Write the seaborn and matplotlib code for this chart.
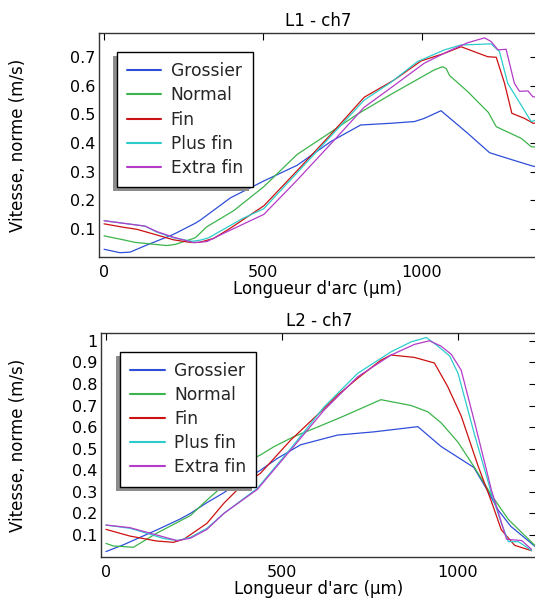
import numpy as np
import pandas as pd
import matplotlib
matplotlib.use("Agg")
import matplotlib.pyplot as plt
import seaborn as sns

series_names = ["Grossier", "Normal", "Fin", "Plus fin", "Extra fin"]
colors = ["#2f4fd8", "#3cb44b", "#cc1111", "#2ccccc", "#b23cc8"]

# ---- L1 - ch7 ----
l1_grossier_x = [0, 50, 82, 135, 214, 229, 287, 303, 398, 503, 608, 714, 808, 903, 977, 1008, 1061, 1145, 1214, 1271, 1350, 1365]
l1_grossier_y = [0.028, 0.016, 0.018, 0.043, 0.078, 0.086, 0.119, 0.13, 0.208, 0.267, 0.322, 0.405, 0.463, 0.469, 0.475, 0.486, 0.513, 0.434, 0.366, 0.346, 0.319, 0.316]
l1_normal_x = [0, 61, 98, 198, 224, 287, 324, 408, 503, 608, 714, 798, 903, 1040, 1066, 1077, 1088, 1145, 1210, 1235, 1314, 1345, 1365]
l1_normal_y = [0.075, 0.061, 0.052, 0.041, 0.045, 0.068, 0.107, 0.163, 0.247, 0.36, 0.438, 0.501, 0.57, 0.656, 0.667, 0.661, 0.636, 0.58, 0.507, 0.457, 0.416, 0.387, 0.385]
l1_fin_x = [0, 61, 103, 166, 219, 272, 300, 345, 398, 503, 608, 714, 819, 914, 998, 1072, 1124, 1208, 1235, 1261, 1284, 1324, 1351, 1365]
l1_fin_y = [0.117, 0.105, 0.098, 0.078, 0.061, 0.052, 0.052, 0.066, 0.102, 0.18, 0.303, 0.43, 0.56, 0.621, 0.687, 0.714, 0.737, 0.702, 0.70, 0.609, 0.504, 0.486, 0.469, 0.47]
l1_plusfin_x = [0, 61, 129, 166, 219, 277, 303, 329, 435, 503, 608, 714, 819, 903, 987, 1072, 1124, 1219, 1245, 1271, 1345, 1365]
l1_plusfin_y = [0.128, 0.119, 0.109, 0.088, 0.068, 0.056, 0.060, 0.068, 0.135, 0.17, 0.296, 0.424, 0.55, 0.612, 0.685, 0.726, 0.743, 0.747, 0.72, 0.609, 0.475, 0.482]
l1_extrafin_x = [0, 61, 129, 166, 219, 282, 324, 377, 503, 608, 714, 819, 903, 1008, 1082, 1145, 1198, 1219, 1240, 1266, 1292, 1308, 1335, 1350, 1365]
l1_extrafin_y = [0.128, 0.119, 0.109, 0.09, 0.07, 0.051, 0.055, 0.084, 0.15, 0.27, 0.397, 0.525, 0.593, 0.679, 0.72, 0.751, 0.768, 0.755, 0.726, 0.728, 0.609, 0.581, 0.582, 0.562, 0.56]

# ---- L2 - ch7 ----
l2_grossier_x = [0, 49, 97, 144, 211, 240, 287, 335, 382, 439, 487, 553, 658, 762, 886, 952, 1045, 1086, 1114, 1150, 1230]
l2_grossier_y = [0.023, 0.054, 0.089, 0.123, 0.174, 0.20, 0.25, 0.296, 0.347, 0.40, 0.455, 0.518, 0.563, 0.578, 0.602, 0.51, 0.413, 0.30, 0.216, 0.14, 0.032]
l2_normal_x = [0, 21, 78, 144, 240, 287, 335, 392, 439, 477, 534, 601, 677, 781, 867, 914, 952, 1000, 1048, 1095, 1143, 1230]
l2_normal_y = [0.061, 0.049, 0.043, 0.108, 0.19, 0.262, 0.331, 0.432, 0.471, 0.509, 0.556, 0.60, 0.652, 0.727, 0.70, 0.671, 0.62, 0.53, 0.41, 0.285, 0.172, 0.033]
l2_fin_x = [0, 68, 144, 192, 221, 287, 335, 382, 439, 525, 610, 658, 715, 781, 810, 876, 933, 971, 1009, 1057, 1095, 1123, 1161, 1209]
l2_fin_y = [0.126, 0.095, 0.072, 0.066, 0.08, 0.154, 0.247, 0.324, 0.386, 0.54, 0.671, 0.748, 0.826, 0.91, 0.934, 0.923, 0.897, 0.787, 0.652, 0.42, 0.255, 0.124, 0.052, 0.027]
l2_plusfin_x = [0, 68, 116, 163, 202, 240, 287, 335, 430, 525, 620, 715, 810, 867, 910, 943, 976, 1000, 1047, 1095, 1123, 1143, 1171, 1190, 1209]
l2_plusfin_y = [0.146, 0.131, 0.108, 0.084, 0.074, 0.089, 0.131, 0.20, 0.316, 0.501, 0.694, 0.849, 0.949, 0.995, 1.015, 0.975, 0.93, 0.85, 0.565, 0.293, 0.155, 0.069, 0.069, 0.049, 0.027]
l2_extrafin_x = [0, 68, 144, 202, 240, 287, 335, 430, 525, 620, 715, 810, 876, 919, 952, 981, 1009, 1048, 1095, 1138, 1181, 1209]
l2_extrafin_y = [0.146, 0.134, 0.10, 0.074, 0.085, 0.126, 0.20, 0.311, 0.494, 0.679, 0.833, 0.934, 0.983, 1.0, 0.975, 0.937, 0.864, 0.617, 0.308, 0.08, 0.074, 0.033]

x_ticks = [0, 500, 1000]
l1_yticks = [0.1, 0.2, 0.3, 0.4, 0.5, 0.6, 0.7]
l2_yticks = [0.1, 0.2, 0.3, 0.4, 0.5, 0.6, 0.7, 0.8, 0.9, 1.0]
l2_yticklabels = ["0.1", "0.2", "0.3", "0.4", "0.5", "0.6", "0.7", "0.8", "0.9", "1"]


def make_df(xs, ys):
    frames = []
    for name, x, y in zip(series_names, xs, ys):
        frames.append(pd.DataFrame({"x": x, "y": y, "series": name}))
    return pd.concat(frames, ignore_index=True)


df1 = make_df([l1_grossier_x, l1_normal_x, l1_fin_x, l1_plusfin_x, l1_extrafin_x],
              [l1_grossier_y, l1_normal_y, l1_fin_y, l1_plusfin_y, l1_extrafin_y])
df2 = make_df([l2_grossier_x, l2_normal_x, l2_fin_x, l2_plusfin_x, l2_extrafin_x],
              [l2_grossier_y, l2_normal_y, l2_fin_y, l2_plusfin_y, l2_extrafin_y])

sns.set_theme(style="white")
plt.rcParams["font.family"] = ["DejaVu Sans"]

fig = plt.figure(figsize=(5.35, 6.0), dpi=100)
ax1 = fig.add_axes([0.185, 0.5717, 0.818, 0.3733])
ax2 = fig.add_axes([0.1888, 0.0717, 0.814, 0.3733])

palette = dict(zip(series_names, colors))

configs = [
    (ax1, df1, "L1 - ch7", (-16, 1362), (0.001, 0.785), l1_yticks, [f"{v:.1f}" for v in l1_yticks], (0.041, 0.915), -0.1635),
    (ax2, df2, "L2 - ch7", (-14, 1223), (-0.002, 1.036), l2_yticks, l2_yticklabels, (0.044, 0.917), -0.169),
]

for ax, df, title, xlim, ylim, yt, ytl, leg_pos, ylab_x in configs:
    sns.lineplot(data=df, x="x", y="y", hue="series", hue_order=series_names,
                 palette=palette, estimator=None, sort=False, linewidth=0.9, ax=ax)
    ax.set_xlim(*xlim)
    ax.set_ylim(*ylim)
    ax.set_xticks(x_ticks)
    ax.set_xticklabels([str(v) for v in x_ticks])
    ax.set_yticks(yt)
    ax.set_yticklabels(ytl)
    ax.tick_params(axis="both", direction="in", length=5, width=0.8, color="black",
                   labelsize=11.5, labelcolor="black", top=True, right=True)
    ax.tick_params(axis="x", pad=6)
    ax.tick_params(axis="y", pad=2.5)
    for s in ax.spines.values():
        s.set_color("#333333")
        s.set_linewidth(1.0)
    ax.set_title(title, fontsize=12, pad=5, color="black")
    ax.set_xlabel("Longueur d'arc (µm)", fontsize=12, labelpad=0, color="black")
    ax.set_ylabel("Vitesse, norme (m/s)", fontsize=12, color="black")
    ax.yaxis.set_label_coords(ylab_x, 0.5)
    handles, labels = ax.get_legend_handles_labels()
    leg = ax.legend(handles, labels, loc="upper left", bbox_to_anchor=leg_pos,
                    fontsize=12.3, frameon=True, fancybox=False, framealpha=1,
                    edgecolor="black", handlelength=2.0, handletextpad=0.55,
                    labelspacing=0.36, borderpad=0.6, borderaxespad=0,
                    shadow={"ox": -3, "oy": -3, "facecolor": "0.55", "edgecolor": "none", "alpha": 1})
    leg.get_frame().set_linewidth(1.0)
    for line in leg.get_lines():
        line.set_linewidth(1.5)

fig.savefig("out.png", dpi=100)
